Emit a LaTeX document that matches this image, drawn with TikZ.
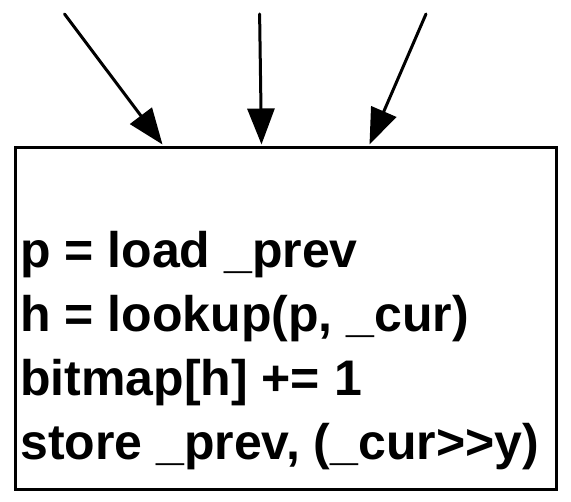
\documentclass[tikz,border=0pt]{standalone}
\usepackage{fontspec}
\setmainfont{Liberation Sans}
\usetikzlibrary{arrows.meta}
\begin{document}
\begin{tikzpicture}[x=1pt,y=1pt,
  arr/.style={line width=3pt,-{Triangle[length=36pt,width=27pt]}},
  codebox/.style={draw,line width=3pt,minimum width=541pt,minimum height=342pt,inner sep=0pt}]
\useasboundingbox (0,0) rectangle (571,502);
\node[codebox] (box) at (285.5,183) {};
\node[anchor=base west,align=left,inner sep=0pt,font=\bfseries\fontsize{50}{64.3}\selectfont] (code) at (20,42)
  {p = load \_prev\\h = lookup(p, \_cur)\\bitmap[h] += 1\\store \_prev, (\_cur>{}>y)};
\coordinate (s1) at (64.5,488);
\coordinate (s2) at (259.6,488);
\coordinate (s3) at (426,488);
\draw[arr,line cap=round] (s1) -- ([xshift=149pt,yshift=2pt]box.north west);
\draw[arr,line cap=round] (s2) -- ([xshift=248pt,yshift=2pt]box.north west);
\draw[arr,line cap=round] (s3) -- ([xshift=356pt,yshift=2pt]box.north west);
\end{tikzpicture}
\end{document}
